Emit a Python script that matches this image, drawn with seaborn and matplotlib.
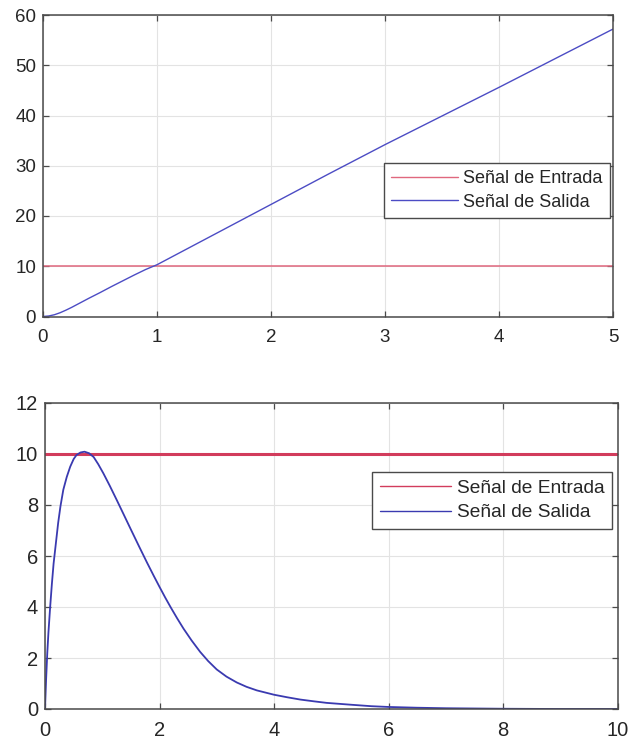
import matplotlib
matplotlib.use("Agg")
import matplotlib.pyplot as plt
import seaborn as sns

# Ramp test: input level and measured output
t_ramp = [0.0, 0.05, 0.1, 0.15, 0.2, 0.25, 0.3, 0.4, 0.5, 0.6, 0.7, 0.8, 0.9, 1.0,
          1.5, 2.0, 2.5, 3.0, 3.5, 4.0, 4.5, 5.0]
y_ramp = [0.0, 0.1, 0.35, 0.75, 1.25, 1.8, 2.4, 3.6, 4.75, 5.95, 7.1, 8.25, 9.35, 10.3,
          16.3, 22.3, 28.3, 34.2, 39.9, 45.6, 51.4, 57.2]
t_in_ramp = [0.0, 5.0]
u_in_ramp = [10.0, 10.0]

# Pulse-like response: input level and measured output
t_resp = [0.0, 0.02, 0.04, 0.06, 0.09, 0.12, 0.15, 0.19, 0.23, 0.27,
          0.32, 0.38, 0.44, 0.5, 0.55, 0.62, 0.69, 0.77, 0.85, 0.93,
          1.02, 1.13, 1.25, 1.37, 1.5, 1.64, 1.78, 1.9, 2.0, 2.1,
          2.2, 2.31, 2.42, 2.56, 2.71, 2.85, 3.0, 3.17, 3.35, 3.52,
          3.7, 4.0, 4.23, 4.46, 4.7, 4.92, 5.33, 5.7, 6.0, 6.5,
          7.0, 7.5, 8.0, 9.0, 10.0]
y_resp = [0.0, 1.2, 2.2, 3.0, 4.0, 4.9, 5.7, 6.5, 7.3, 7.95,
          8.6, 9.1, 9.5, 9.8, 9.96, 10.06, 10.09, 10.03, 9.88, 9.6,
          9.24, 8.76, 8.21, 7.65, 7.04, 6.39, 5.75, 5.22, 4.79, 4.37,
          3.97, 3.55, 3.15, 2.69, 2.24, 1.88, 1.55, 1.27, 1.04, 0.87,
          0.73, 0.56, 0.46, 0.37, 0.3, 0.24, 0.17, 0.11, 0.08, 0.05,
          0.03, 0.02, 0.01, 0.0, 0.0]
t_in_resp = [0.0, 10.0]
u_in_resp = [10.0, 10.0]

lbl_in = "Señal de Entrada"
lbl_out = "Señal de Salida"

sns.set_theme(style="whitegrid")
plt.rcParams["font.family"] = ["Liberation Sans", "DejaVu Sans"]

fig = plt.figure(figsize=(6.32, 7.42), dpi=100)
fig.patch.set_facecolor("white")

ax1 = fig.add_axes([43 / 632, 1 - 316.5 / 742, 570 / 632, 301.5 / 742])
ax2 = fig.add_axes([45 / 632, 1 - 709 / 742, 572.5 / 632, 306 / 742])


def style_axes(ax, fs):
    ax.set_facecolor("white")
    ax.grid(True, color="#e3e3e3", linewidth=0.8)
    for sp in ax.spines.values():
        sp.set_visible(True)
        sp.set_color("#4a4a4a")
        sp.set_linewidth(1.1)
    ax.tick_params(axis="both", direction="in", length=4.5, width=0.9,
                   color="#4a4a4a", labelcolor="#262626", labelsize=fs,
                   top=True, right=True, bottom=True, left=True)
    ax.tick_params(axis="x", pad=9.0)
    ax.tick_params(axis="y", pad=5.0)
    ax.set_xlabel("")
    ax.set_ylabel("")


def add_legend(ax, anchor, fs):
    leg = ax.legend(loc="upper right", bbox_to_anchor=anchor,
                    bbox_transform=fig.transFigure, borderaxespad=0,
                    fontsize=fs, handlelength=3.7, handletextpad=0.3,
                    labelspacing=0.35, borderpad=0.4, fancybox=False,
                    framealpha=1, edgecolor="#4a4a4a")
    leg.get_frame().set_linewidth(1.0)
    for h in leg.get_lines():
        h.set_linewidth(1.0)
    return leg


# Top panel
sns.lineplot(x=t_in_ramp, y=u_in_ramp, ax=ax1, color="#e0687e",
             linewidth=1.1, label=lbl_in)
sns.lineplot(x=t_ramp, y=y_ramp, ax=ax1, color="#4c4cc4",
             linewidth=1.0, label=lbl_out)
ax1.set_xlim(0, 5)
ax1.set_ylim(0, 60)
ax1.set_xticks([0, 1, 2, 3, 4, 5])
ax1.set_yticks([0, 10, 20, 30, 40, 50, 60])
style_axes(ax1, 13.5)
add_legend(ax1, (610 / 632, 1 - 163 / 742), 13)

# Bottom panel
sns.lineplot(x=t_in_resp, y=u_in_resp, ax=ax2, color="#d23c5c",
             linewidth=2.2, label=lbl_in)
sns.lineplot(x=t_resp, y=y_resp, ax=ax2, color="#3a3ab0",
             linewidth=1.3, label=lbl_out)
ax2.set_xlim(0, 10)
ax2.set_ylim(0, 12)
ax2.set_xticks([0, 2, 4, 6, 8, 10])
ax2.set_yticks([0, 2, 4, 6, 8, 10, 12])
style_axes(ax2, 14.5)
add_legend(ax2, (612 / 632, 1 - 472 / 742), 13.8)

fig.savefig("out.png", dpi=100, facecolor="white")
